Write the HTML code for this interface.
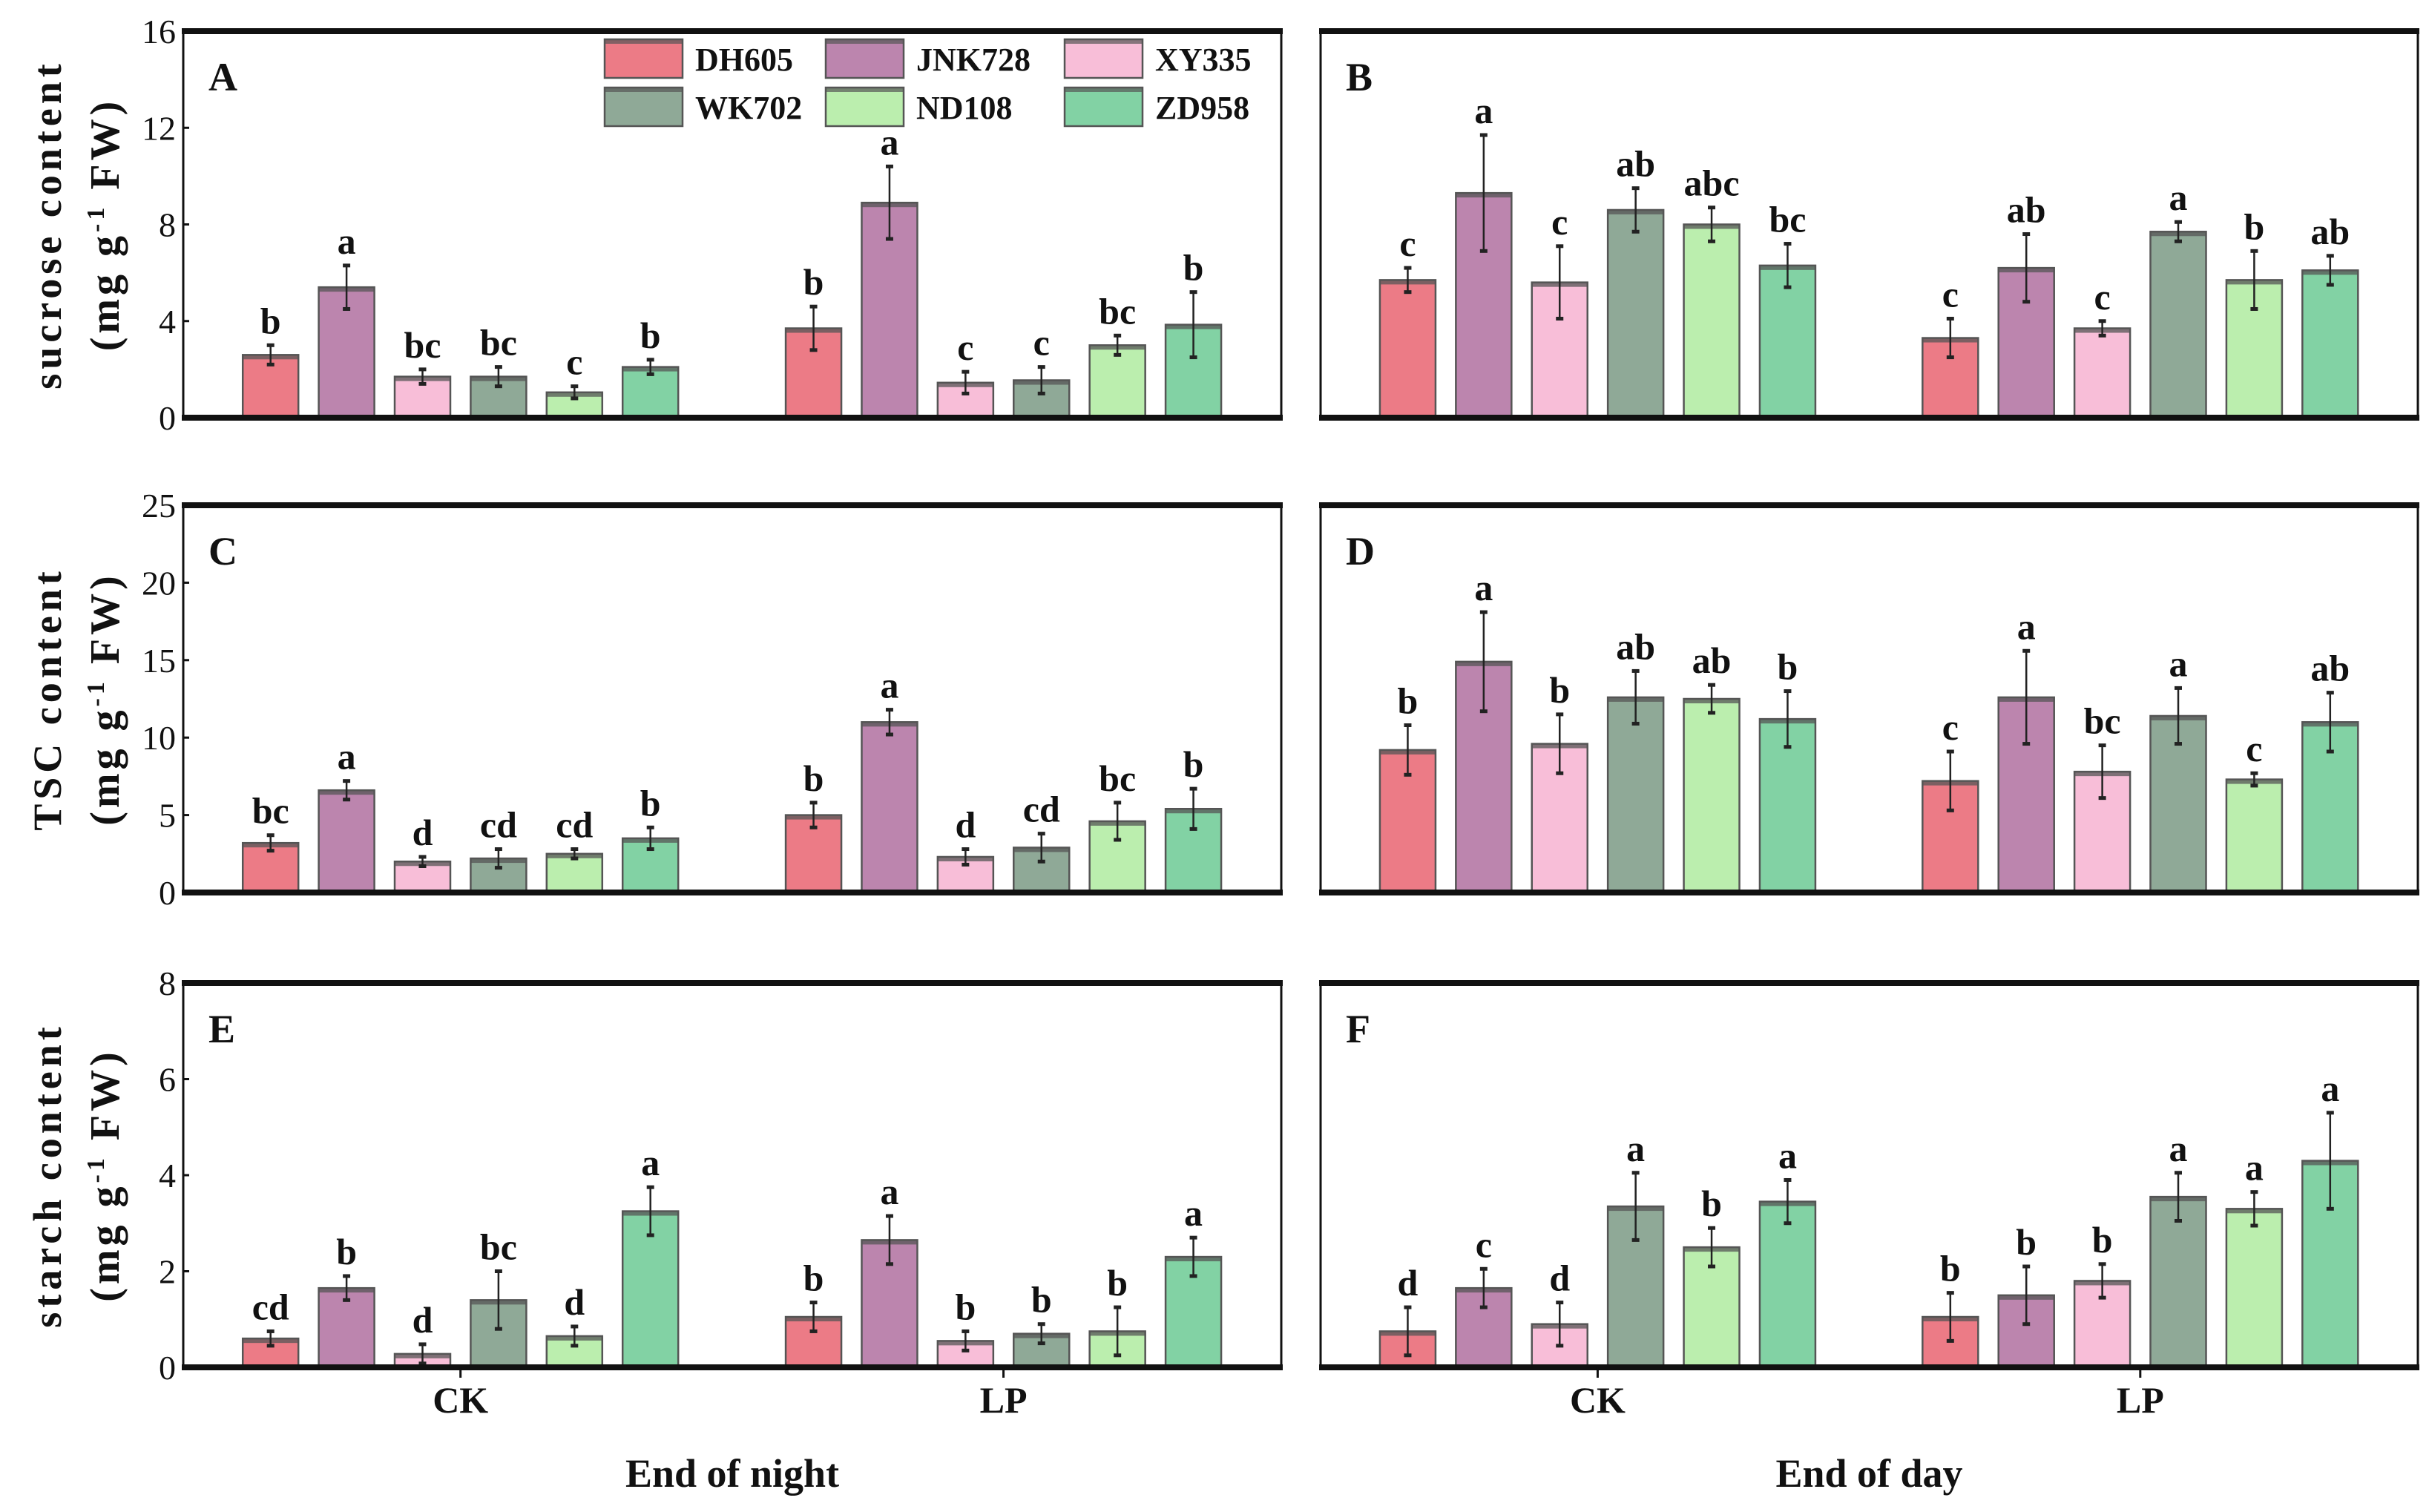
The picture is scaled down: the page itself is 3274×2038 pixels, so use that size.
<!DOCTYPE html>
<html><head><meta charset="utf-8"><style>
html,body{margin:0;padding:0;background:#fff;}
svg{display:block;font-family:"Liberation Serif",serif;}
</style></head><body>
<svg id="chart" width="3274" height="2038" viewBox="0 0 3274 2038" xmlns="http://www.w3.org/2000/svg"></svg>
<script>
const cultivars = ["DH605","JNK728","XY335","WK702","ND108","ZD958"];
const treatments = ["CK","LP"];
const colors = ["#ec7b86","#bc85ae","#f8bed8","#8fa997","#bbeeae","#82d2a4"];
// Panel A: sucrose, end of night
const aVals = [[2.6,5.4,1.7,1.7,1.05,2.1],[3.7,8.9,1.45,1.55,3.0,3.85]];
const aErr = [[0.4,0.9,0.3,0.4,0.25,0.3],[0.9,1.5,0.45,0.55,0.4,1.35]];
const aLet = [["b","a","bc","bc","c","b"],["b","a","c","c","bc","b"]];
// Panel B: sucrose, end of day
const bVals = [[5.7,9.3,5.6,8.6,8.0,6.3],[3.3,6.2,3.7,7.7,5.7,6.1]];
const bErr = [[0.5,2.4,1.5,0.9,0.7,0.9],[0.8,1.4,0.3,0.4,1.2,0.6]];
const bLet = [["c","a","c","ab","abc","bc"],["c","ab","c","a","b","ab"]];
// Panel C: TSC, end of night
const cVals = [[3.2,6.6,2.0,2.2,2.5,3.5],[5.0,11.0,2.3,2.9,4.6,5.4]];
const cErr = [[0.5,0.6,0.3,0.6,0.3,0.7],[0.8,0.8,0.5,0.9,1.2,1.3]];
const cLet = [["bc","a","d","cd","cd","b"],["b","a","d","cd","bc","b"]];
// Panel D: TSC, end of day
const dVals = [[9.2,14.9,9.6,12.6,12.5,11.2],[7.2,12.6,7.8,11.4,7.3,11.0]];
const dErr = [[1.6,3.2,1.9,1.7,0.9,1.8],[1.9,3.0,1.7,1.8,0.4,1.9]];
const dLet = [["b","a","b","ab","ab","b"],["c","a","bc","a","c","ab"]];
// Panel E: starch, end of night
const eVals = [[0.6,1.65,0.28,1.4,0.65,3.25],[1.05,2.65,0.55,0.7,0.75,2.3]];
const eErr = [[0.15,0.25,0.2,0.6,0.2,0.5],[0.3,0.5,0.2,0.2,0.5,0.4]];
const eLet = [["cd","b","d","bc","d","a"],["b","a","b","b","b","a"]];
// Panel F: starch, end of day
const fVals = [[0.75,1.65,0.9,3.35,2.5,3.45],[1.05,1.5,1.8,3.55,3.3,4.3]];
const fErr = [[0.5,0.4,0.45,0.7,0.4,0.45],[0.5,0.6,0.35,0.5,0.35,1.0]];
const fLet = [["d","c","d","a","b","a"],["b","b","b","a","a","a"]];
const yTicksSuc = [0,4,8,12,16];
const yTicksTsc = [0,5,10,15,20,25];
const yTicksSta = [0,2,4,6,8];

const svg = document.getElementById('chart');
const NS = "http://www.w3.org/2000/svg";
function mk(tag, attrs, parent){
  const e = document.createElementNS(NS, tag);
  for (const k in attrs) e.setAttribute(k, attrs[k]);
  (parent||svg).appendChild(e);
  return e;
}
const cols = [[247,1727],[1780,3259]];
const rows = [[42,563],[681,1203],[1325,1843]];
const panels = [
  {id:"A",c:0,r:0,vals:aVals,err:aErr,let:aLet,ticks:yTicksSuc,max:16},
  {id:"B",c:1,r:0,vals:bVals,err:bErr,let:bLet,ticks:yTicksSuc,max:16},
  {id:"C",c:0,r:1,vals:cVals,err:cErr,let:cLet,ticks:yTicksTsc,max:25},
  {id:"D",c:1,r:1,vals:dVals,err:dErr,let:dLet,ticks:yTicksTsc,max:25},
  {id:"E",c:0,r:2,vals:eVals,err:eErr,let:eLet,ticks:yTicksSta,max:8},
  {id:"F",c:1,r:2,vals:fVals,err:fErr,let:fLet,ticks:yTicksSta,max:8}
];
const yTitles = [["sucrose content","(mg g","-1"," FW)"],["TSC content","(mg g","-1"," FW)"],["starch content","(mg g","-1"," FW)"]];

panels.forEach(p=>{
  const [x0,x1] = cols[p.c], [y0,y1] = rows[p.r];
  const g = mk('g',{});
  
  
  const yS = v => y1 - v/p.max*(y1-y0);
  const xC = t => x0 + (t===0?0.2525:0.747)*(x1-x0);
  const xB = (t,i) => xC(t) + (i-2.5)*102.4;
  p.vals.forEach((arr,t)=>arr.forEach((v,i)=>{
    const cx = xB(t,i), w = 75, top = yS(v);
    const r = mk('rect',{x:cx-w/2,y:top,width:w,height:y1-top,fill:colors[i],stroke:"#555",'stroke-width':2.5},g);
    
    
    mk('rect',{x:cx-w/2,y:top,width:w,height:6,fill:"#555",opacity:0.75},g);
    const e = p.err[t][i];
    const ln = mk('line',{x1:cx,x2:cx,y1:yS(v+e),y2:yS(Math.max(0,v-e)),stroke:"#222",'stroke-width':2.5},g);
    
    
    [v+e,Math.max(0,v-e)].forEach(yy=>mk('line',{x1:cx-5,x2:cx+5,y1:yS(yy),y2:yS(yy),stroke:"#222",'stroke-width':5},g));
    const tx = mk('text',{x:cx,y:yS(v+e)-16,'text-anchor':'middle','font-size':50,'font-weight':'bold',fill:'#111'},g);
    tx.textContent = p.let[t][i];
    
    
  }));
  mk('line',{x1:x0,x2:x0,y1:y0,y2:y1,stroke:'#111','stroke-width':3},g);
  mk('line',{x1:x1,x2:x1,y1:y0,y2:y1,stroke:'#111','stroke-width':3},g);
  mk('line',{x1:x0-2,x2:x1+2,y1:y0,y2:y0,stroke:'#111','stroke-width':8},g);
  mk('line',{x1:x0-2,x2:x1+2,y1:y1,y2:y1,stroke:'#111','stroke-width':8},g);
  const pl = mk('text',{x:x0+34,y:y0+80,'font-size':54,'font-weight':'bold',fill:'#111'},g);
  pl.textContent = p.id;
  
  
  if (p.c===0){
    p.ticks.forEach(tk=>{
      mk('line',{x1:x0,x2:x0+8,y1:yS(tk),y2:yS(tk),stroke:'#111','stroke-width':3},g);
      const tl = mk('text',{x:x0-10,y:yS(tk)+16,'text-anchor':'end','font-size':46,fill:'#111'},g);
      tl.textContent = tk;
      
      
    });
    const yc = (y0+y1)/2, tt = yTitles[p.r];
    const t1 = mk('text',{x:0,y:0,transform:`translate(82,${yc}) rotate(-90)`,'text-anchor':'middle','font-size':54,'font-weight':'bold','letter-spacing':6,fill:'#111'},g);
    t1.textContent = tt[0];
    
    
    const t2 = mk('text',{x:0,y:0,transform:`translate(160,${yc}) rotate(-90)`,'text-anchor':'middle','font-size':56,'font-weight':'bold','letter-spacing':5,fill:'#111'},g);
    
    
    t2.appendChild(document.createTextNode(tt[1]));
    const sp = document.createElementNS(NS,'tspan'); sp.setAttribute('dy',-20); sp.setAttribute('font-size',34); sp.textContent=tt[2]; t2.appendChild(sp);
    const sp2 = document.createElementNS(NS,'tspan'); sp2.setAttribute('dy',20); sp2.textContent=tt[3]; t2.appendChild(sp2);
  }
  if (p.r===2){
    treatments.forEach((tn,t)=>{
      mk('line',{x1:xC(t),x2:xC(t),y1:y1,y2:y1+14,stroke:'#111','stroke-width':3},g);
      const cl = mk('text',{x:xC(t),y:1904,'text-anchor':'middle','font-size':50,'font-weight':'bold',fill:'#111'},g);
      cl.textContent = tn;
      
      
    });
    const xt = mk('text',{x:(x0+x1)/2,y:2004,'text-anchor':'middle','font-size':54,'font-weight':'bold',fill:'#111'},g);
    xt.textContent = p.c===0 ? "End of night" : "End of day";
    
    
  }
});
const lg = mk('g',{});


const lx = [815,1113,1435], ly = [53,118];
cultivars.forEach((c,i)=>{
  const col = i%3, row = Math.floor(i/3);
  const e = mk('g',{},lg);
  
  
  mk('rect',{x:lx[col],y:ly[row],width:105,height:52,fill:colors[i],stroke:'#555','stroke-width':2.5},e);
  mk('rect',{x:lx[col],y:ly[row],width:105,height:6,fill:'#555',opacity:0.7},e);
  const t = mk('text',{x:lx[col]+122,y:ly[row]+42,'font-size':44,'font-weight':'bold',fill:'#111'},e);
  t.textContent = c;
});
</script>
</body></html>
